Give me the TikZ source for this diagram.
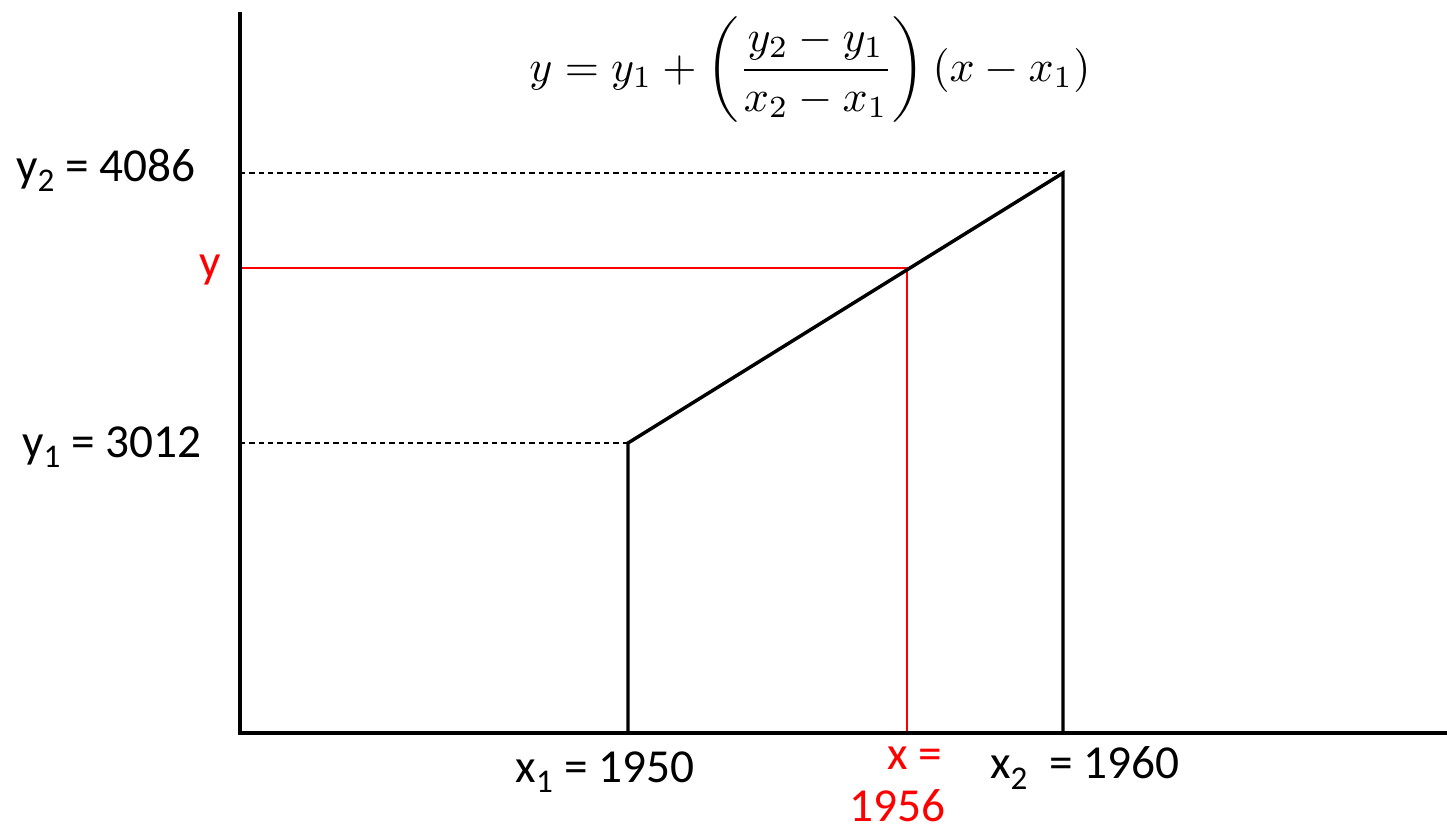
\documentclass[tikz,border=0pt]{standalone}
\usepackage{amsmath}
\usepackage{fontspec}
\setmainfont{Carlito}
\begin{document}
\begin{tikzpicture}[x=0.75pt,y=-0.75pt,
  axis/.style={line width=2.5pt,black},
  curve/.style={line width=2.6pt,black},
  guide/.style={line width=0.8pt,black,dash pattern=on 4pt off 3pt},
  redline/.style={line width=1.6pt,red},
  lbl/.style={font=\fontsize{35.5}{40}\selectfont,inner sep=0pt},
  rlbl/.style={lbl,text=red}]
\useasboundingbox (0,0) rectangle (1447,832);
\coordinate (ytop) at (240,12);
\coordinate (O) at (240,733);
\coordinate (xend) at (1447,733);
\coordinate (x1b) at (628,733);
\coordinate (p1) at (628,443);
\coordinate (p2) at (1063,173);
\coordinate (x2b) at (1063,733);
\coordinate (y2a) at (240,173);
\coordinate (y1a) at (240,443);
\coordinate (ya) at (240,268);
\coordinate (pm) at (907,268);
\coordinate (xb) at (907,733);
\draw[guide] (y2a) -- (p2);
\draw[guide] (y1a) -- (p1);
\draw[redline] (ya) -- (pm) -- (xb);
\draw[curve] (x1b) -- (p1) -- (p2) -- (x2b);
\draw[axis] (ytop) -- (O) -- (xend);
\node[lbl] (ly2) at (106,170) {y\textsubscript{2} = 4086};
\node[rlbl] (ly) at (210,270) {y};
\node[lbl] (ly1) at (112,447) {y\textsubscript{1} = 3012};
\node[lbl] (lx1) at (605,772) {x\textsubscript{1} = 1950};
\node[rlbl] (lx) at (915,758) {x =};
\node[rlbl] (lxv) at (897,806) {1956};
\node[lbl] (lx2) at (1085,768) {x\textsubscript{2} ~= 1960};
\node[inner sep=0pt] (f) at (810,70)
  {\scalebox{3.3}{$y = y_1 + \left(\dfrac{y_2 - y_1}{x_2 - x_1}\right)(x - x_1)$}};
\end{tikzpicture}
\end{document}
